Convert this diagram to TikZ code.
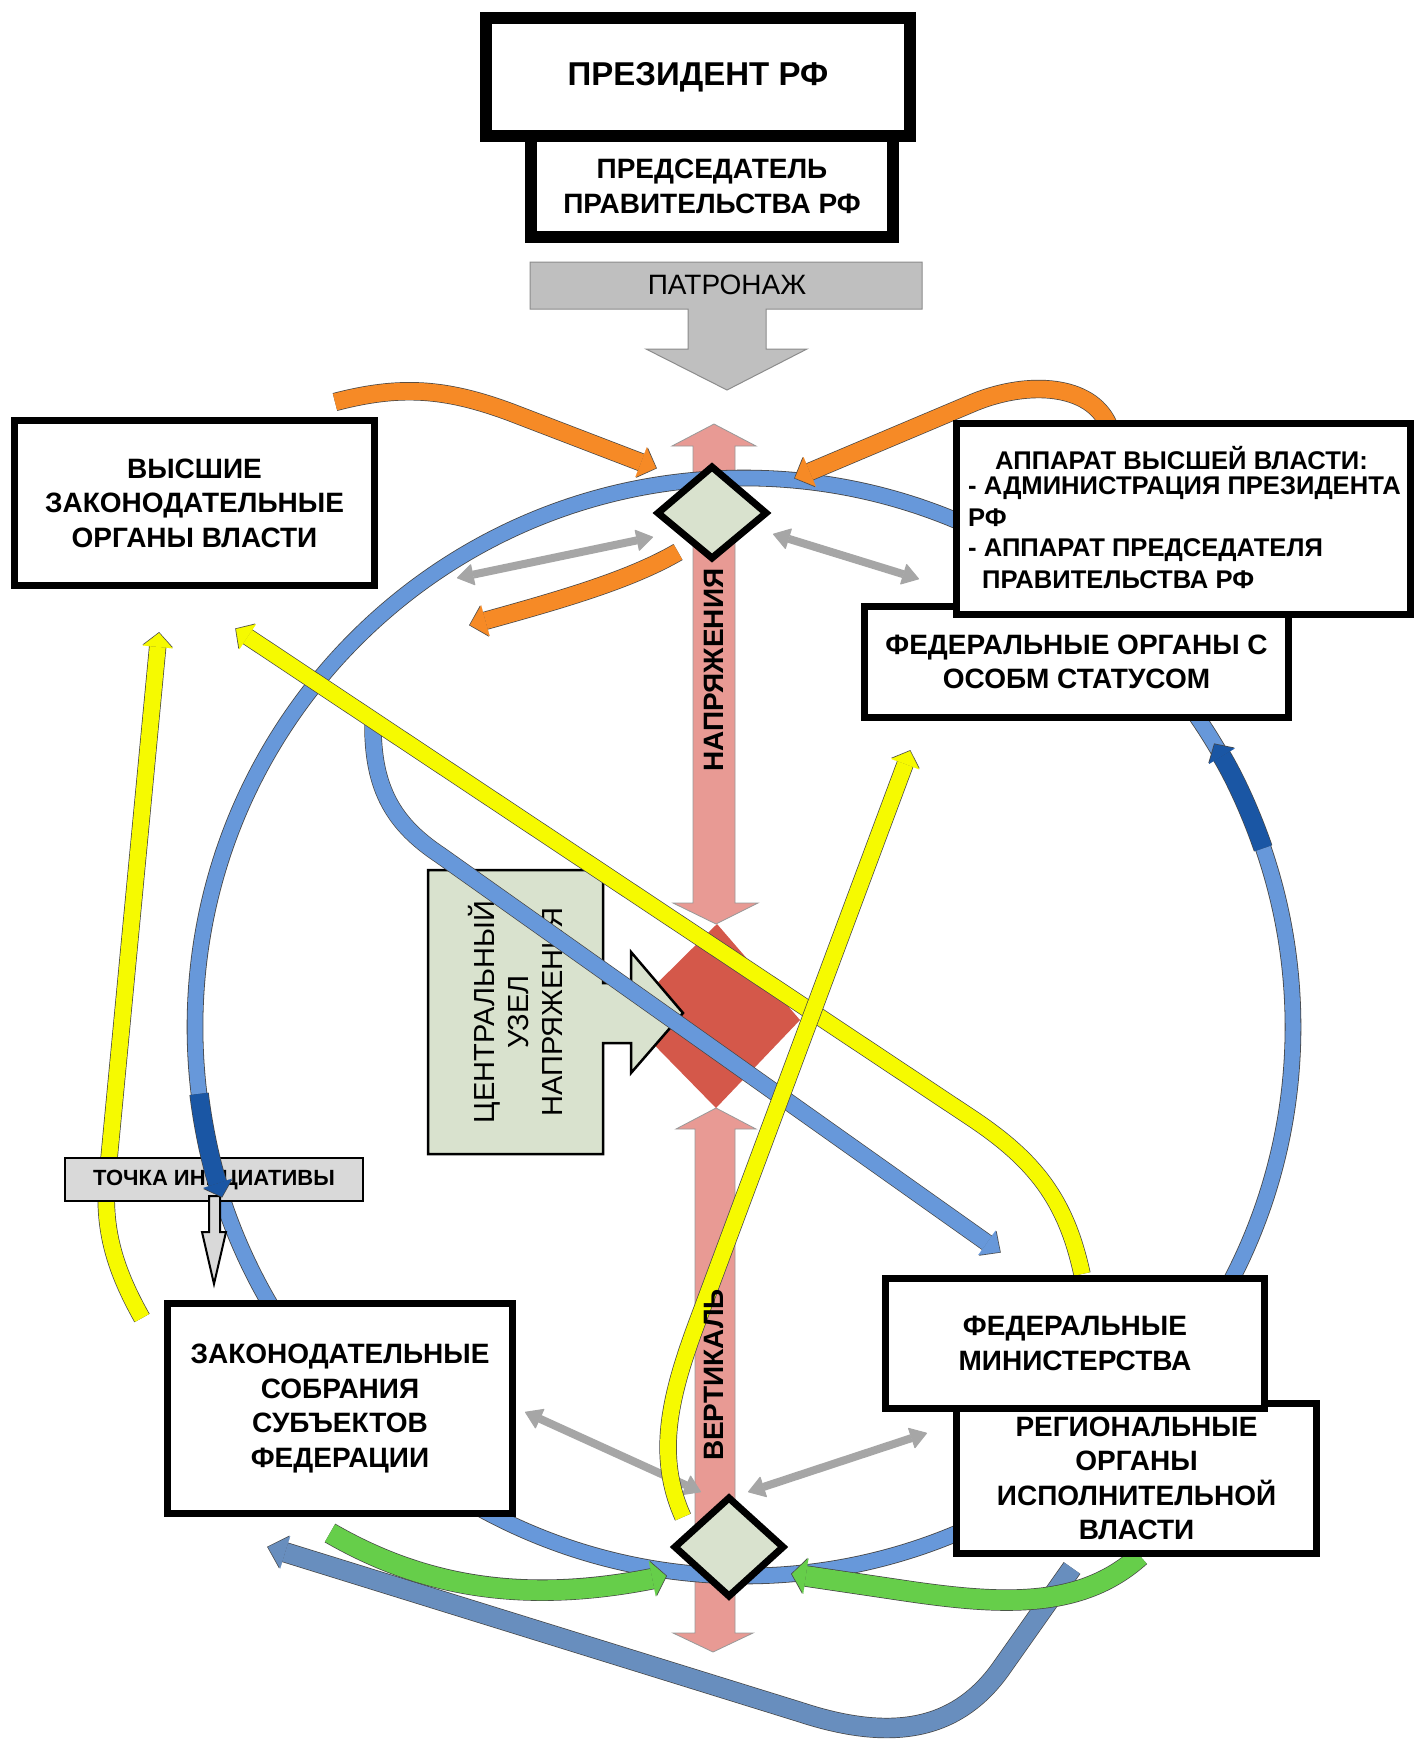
\documentclass[tikz,border=0pt]{standalone}
\usepackage{fontspec}
\setmainfont{Liberation Sans}
\usetikzlibrary{arrows.meta,calc}
\definecolor{ringblue}{RGB}{103,152,218}
\definecolor{darkblue}{RGB}{26,86,164}
\definecolor{steelb}{RGB}{104,142,190}
\definecolor{orangeA}{RGB}{246,138,38}
\definecolor{yellowA}{RGB}{246,250,0}
\definecolor{greenA}{RGB}{102,206,74}
\definecolor{pinkA}{RGB}{232,154,148}
\definecolor{redA}{RGB}{212,88,74}
\definecolor{sage}{RGB}{217,226,206}
\definecolor{grayA}{RGB}{166,166,166}
\definecolor{grayB}{RGB}{191,191,191}
\definecolor{grayC}{RGB}{217,217,217}
\definecolor{edgec}{RGB}{70,70,70}
\tikzset{
  blk/.style n args={5}{draw=#1, line width=#2pt,
    -{Triangle[width=#4pt 0 0,length=#5pt 0 0,line width=0.1pt 0 0]},
    preaction={draw=edgec, line width=#3pt, shorten >=-1pt,
      -{Triangle[width=#4pt 0 0,length=#5pt 0 0,line width=2pt 0 0]}}},
  band/.style n args={3}{draw=#1, line width=#2pt, preaction={draw=edgec, line width=#3pt}},
  dbl/.style={draw=grayA, line width=8pt,
    {Triangle[width=22pt 0 0,length=17pt 0 0,line width=1pt 0 0,round]}-{Triangle[width=22pt 0 0,length=17pt 0 0,line width=1pt 0 0,round]}},
  box/.style={draw=black, line width=7pt, fill=white, align=center, inner sep=0pt,
    font=\bfseries\fontsize{28}{34.5}\selectfont},
  lbl/.style={inner sep=0pt, font=\bfseries\fontsize{25.6}{30}\selectfont, anchor=west},
  pinkbox/.style={fill=pinkA, draw=black!40, line width=0.8pt},
  dia/.style={fill=sage, draw=black, line width=7pt, line join=miter},
}
\begin{document}
\begin{tikzpicture}[x=1pt,y=-1pt]
\fill[white] (0,0) rectangle (1415,1740);
\useasboundingbox (0,0) rectangle (1415,1740);

% ---- patronage arrow
\draw[fill=grayB, draw=black!45, line width=1pt] (530,262) -- (922,262) -- (922,309) -- (766,309) -- (766,349) -- (807,349) -- (727,390) -- (646,349) -- (688,349) -- (688,309) -- (530,309) -- cycle;
\node[font=\fontsize{28}{34}\selectfont, inner sep=0pt] (patr) at (727,285) {ПАТРОНАЖ};

% ---- pink arrows
\draw[pinkbox] (714,424) -- (756,446) -- (735,446) -- (735,903) -- (758,903) -- (716,924) -- (673,903) -- (693,903) -- (693,446) -- (672,446) -- cycle;
\draw[pinkbox] (716,1108) -- (756,1129) -- (735,1129) -- (735,1633) -- (753,1633) -- (713,1652) -- (673,1633) -- (695,1633) -- (695,1129) -- (676,1129) -- cycle;

% ---- ring
\coordinate (C) at (744,1027);
\draw[band={ringblue}{15}{16.6}] (C) circle[radius=549];

% ---- central node
\fill[redA] (717,924) -- (800,1020) -- (716,1108) -- (625,1015) -- cycle;
\draw[fill=sage, draw=black, line width=2.5pt, line join=miter] (428,870) -- (603,870) -- (603,983) -- (631,983) -- (631,952) -- (683,1013) -- (631,1073) -- (631,1043) -- (603,1043) -- (603,1154) -- (428,1154) -- cycle;
\node[rotate=90, align=center, inner sep=0pt, font=\fontsize{29}{34}\selectfont] (cent) at (515,1012) {ЦЕНТРАЛЬНЫЙ\\УЗЕЛ\\НАПРЯЖЕНИЯ};

% ---- gray double arrows
\coordinate (g1a) at (457,578); \coordinate (g1b) at (653,537);
\coordinate (g2a) at (773,534); \coordinate (g2b) at (919,579);
\coordinate (g3a) at (525,1412); \coordinate (g3b) at (701,1492);
\coordinate (g4a) at (748,1492); \coordinate (g4b) at (927,1433);
\draw[dbl] (g1a) -- (g1b);
\draw[dbl] (g2a) -- (g2b);
\draw[dbl] (g3a) -- (g3b);
\draw[dbl] (g4a) -- (g4b);

% ---- orange arrows
\coordinate (o1s) at (335,402); \coordinate (o1e) at (656,468);
\coordinate (o2s) at (1108,424); \coordinate (o2e) at (795,478);
\coordinate (o3s) at (678,552); \coordinate (o3e) at (470,625);
\draw[blk={orangeA}{17}{18.4}{32}{16}] (o1s) .. controls (400,385) and (445,388) .. (510,412) -- (o1e);
\draw[blk={orangeA}{17}{18.4}{32}{16}] (o2s) .. controls (1090,385) and (1030,380) .. (975,402) -- (o2e);
\draw[blk={orangeA}{17}{18.4}{32}{16}] (o3s) .. controls (630,580) and (560,600) .. (o3e);

% ---- blue S arrow
\coordinate (bs) at (373,722); \coordinate (be) at (1000,1252);
\draw[blk={ringblue}{16}{17.4}{30}{16}] (bs) .. controls (372,790) and (395,825) .. (440,855) -- (be);

% ---- yellow arrows
\coordinate (y1s) at (142,1318); \coordinate (y1e) at (159,633);
\coordinate (y2s) at (1082,1274); \coordinate (y2e) at (236,629);
\coordinate (y3s) at (683,1517); \coordinate (y3e) at (910,751);
\draw[blk={yellowA}{16}{17.4}{30}{14}] (y1s) .. controls (115,1270) and (103,1230) .. (107,1180) -- (y1e);
\draw[blk={yellowA}{16}{17.4}{30}{14}] (y2s) .. controls (1066,1200) and (1035,1160) .. (970,1117) -- (y2e);
\draw[blk={yellowA}{16}{17.4}{30}{14}] (y3s) .. controls (655,1455) and (670,1395) .. (698,1320) -- (y3e);

% ---- steel blue and green arrows
\coordinate (s1s) at (1072,1568); \coordinate (s1e) at (268,1547);
\draw[blk={steelb}{19}{20.4}{34}{18}] (s1s) -- (1000,1670) .. controls (960,1725) and (900,1745) .. (800,1712) -- (s1e);
\coordinate (gr1s) at (330,1533); \coordinate (gr1e) at (666,1576);
\coordinate (gr2s) at (1140,1556); \coordinate (gr2e) at (792,1574);
\draw[blk={greenA}{20}{21.4}{36}{14}] (gr1s) .. controls (420,1585) and (520,1605) .. (gr1e);
\draw[blk={greenA}{20}{21.4}{36}{14}] (gr2s) .. controls (1080,1610) and (1000,1605) .. (900,1590) -- (gr2e);

% ---- dark blue arc (right)
\draw[blk={darkblue}{18}{19.4}{30}{14}] ($(C)+(-19:549)$) arc[start angle=-19, end angle=-31, radius=549];

% ---- boxes
\node[box, line width=12pt, minimum width=362pt, minimum height=101pt] (pred) at (712,186.5) {ПРЕДСЕДАТЕЛЬ\\ПРАВИТЕЛЬСТВА РФ};
\node[box, line width=12pt, minimum width=424pt, minimum height=118pt, font=\bfseries\fontsize{33}{40}\selectfont] (pres) at (698,77) {ПРЕЗИДЕНТ РФ};
\node[box, minimum width=360pt, minimum height=165pt] (vys) at (194.5,503) {ВЫСШИЕ\\ЗАКОНОДАТЕЛЬНЫЕ\\ОРГАНЫ ВЛАСТИ};
\node[box, minimum width=424pt, minimum height=111pt] (fos) at (1076.5,662) {ФЕДЕРАЛЬНЫЕ ОРГАНЫ С\\ОСОБМ СТАТУСОМ};
\node[box, minimum width=454pt, minimum height=191pt] (app) at (1183.5,519) {};
\node[lbl] (app1) at (995,458) {АППАРАТ ВЫСШЕЙ ВЛАСТИ:};
\node[lbl] (app2) at (968,488) {- АДМИНИСТРАЦИЯ ПРЕЗИДЕНТА};
\node[lbl] (app3) at (968,518) {РФ};
\node[lbl] (app4) at (968,550) {- АППАРАТ ПРЕДСЕДАТЕЛЯ};
\node[lbl] (app5) at (982,580) {ПРАВИТЕЛЬСТВА РФ};
\node[box, minimum width=360pt, minimum height=150pt] (reg) at (1136.5,1478.5) {РЕГИОНАЛЬНЫЕ\\ОРГАНЫ\\ИСПОЛНИТЕЛЬНОЙ\\ВЛАСТИ};
\node[box, minimum width=379pt, minimum height=130pt] (fmin) at (1075,1343.5) {ФЕДЕРАЛЬНЫЕ\\МИНИСТЕРСТВА};
\node[box, minimum width=345pt, minimum height=210pt] (zak) at (340,1408.5) {ЗАКОНОДАТЕЛЬНЫЕ\\СОБРАНИЯ\\СУБЪЕКТОВ\\ФЕДЕРАЦИИ};

% ---- initiative point
\node[draw=black, line width=2.5pt, fill=grayC, minimum width=298pt, minimum height=43pt, inner sep=0pt, font=\bfseries\fontsize{22}{26}\selectfont] (toch) at (214,1179.5) {ТОЧКА ИНИЦИАТИВЫ};
\draw[fill=grayC, draw=black, line width=2pt, line join=miter] (209,1196) -- (220,1196) -- (220,1232) -- (226,1232) -- (214,1284) -- (202,1232) -- (209,1232) -- cycle;
\draw[blk={darkblue}{18}{19.4}{30}{14}] ($(C)+(173:549)$) arc[start angle=173, end angle=162, radius=549];

% ---- diamonds
\draw[dia] (712,467) -- (766,513) -- (712,558) -- (658,513) -- cycle;
\draw[dia] (729,1498) -- (783,1547) -- (729,1596) -- (675,1547) -- cycle;

% ---- labels on vertical arrows
\node[rotate=90, inner sep=0pt, font=\bfseries\fontsize{28}{34}\selectfont] (napr) at (714,670) {НАПРЯЖЕНИЯ};
\node[rotate=90, inner sep=0pt, font=\bfseries\fontsize{28}{34}\selectfont] (vert) at (714,1375) {ВЕРТИКАЛЬ};
\end{tikzpicture}
\end{document}
